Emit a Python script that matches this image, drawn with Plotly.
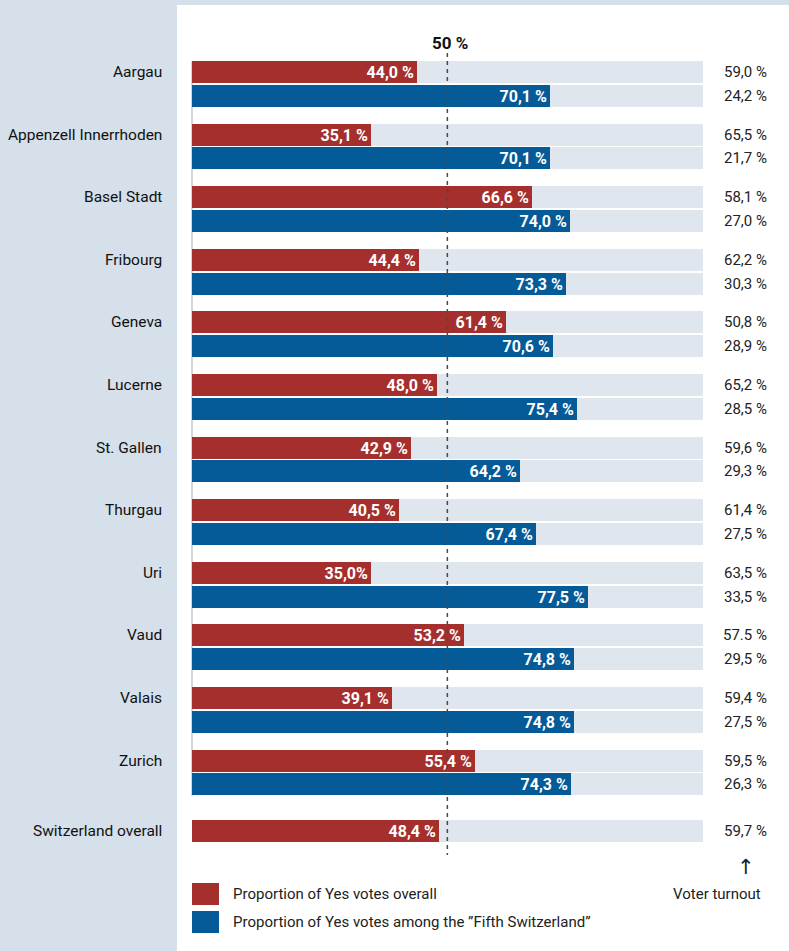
import plotly.graph_objects as go

# ---------------- data ----------------
cantons = ["Aargau", "Appenzell Innerrhoden", "Basel Stadt", "Fribourg", "Geneva",
           "Lucerne", "St. Gallen", "Thurgau", "Uri", "Vaud", "Valais", "Zurich",
           "Switzerland overall"]
yes_overall = [44.0, 35.1, 66.6, 44.4, 61.4, 48.0, 42.9, 40.5, 35.0, 53.2, 39.1, 55.4, 48.4]
yes_fifth = [70.1, 70.1, 74.0, 73.3, 70.6, 75.4, 64.2, 67.4, 77.5, 74.8, 74.8, 74.3]
turnout_overall = [59.0, 65.5, 58.1, 62.2, 50.8, 65.2, 59.6, 61.4, 63.5, 57.5, 59.4, 59.5, 59.7]
turnout_fifth = [24.2, 21.7, 27.0, 30.3, 28.9, 28.5, 29.3, 27.5, 33.5, 29.5, 27.5, 26.3]

# label spellings as printed in the original
overall_label_override = {"Uri": "35,0%"}
turnout_label_override = {"Vaud": "57.5 %"}

legend_labels = ["Proportion of Yes votes overall",
                 "Proportion of Yes votes among the \u201dFifth Switzerland\u201d"]

# ---------------- styling ----------------
W, H = 789, 951
RED = "#a52f2d"
BLUE = "#045b97"
BG_BAR = "#dfe6ed"
PANEL = "#d6e0ea"
FONT = "Roboto, sans-serif"

PX_PER_UNIT_Y = 62.6
Y_TOP_PX = 72.0
BLUE_OFF = 23.8 / PX_PER_UNIT_Y
BAR_W = 22.0 / PX_PER_UNIT_Y
X0_PX, X100_PX = 192.0, 702.7
PX_PER_PCT = (X100_PX - X0_PX) / 100.0


def fmt(v):
    return f"{v:.1f}".replace(".", ",") + " %"


def ypx(py):
    return (py - Y_TOP_PX) / PX_PER_UNIT_Y


def paper_y(py):
    return 1 - py / H


n = len(cantons)
red_pos = [i + (0.125 if i == n - 1 else 0.0) for i in range(n)]
blue_pos = [red_pos[i] + BLUE_OFF for i in range(len(yes_fifth))]

red_text = [overall_label_override.get(c, fmt(v)) for c, v in zip(cantons, yes_overall)]
blue_text = [fmt(v) for v in yes_fifth]

fig = go.Figure()

fig.add_trace(go.Bar(
    x=[100] * (len(red_pos) + len(blue_pos)), y=red_pos + blue_pos,
    orientation="h", width=BAR_W, marker=dict(color=BG_BAR, line_width=0),
    hoverinfo="skip", showlegend=False))

fig.add_trace(go.Bar(
    x=yes_overall, y=red_pos, orientation="h", width=BAR_W,
    marker=dict(color=RED, line_width=0), name=legend_labels[0],
    text=red_text, textposition="inside", insidetextanchor="end",
    constraintext="none", cliponaxis=False,
    textfont=dict(family=FONT, size=16, color="white", weight="bold"),
    showlegend=False))

fig.add_trace(go.Bar(
    x=yes_fifth, y=blue_pos, orientation="h", width=BAR_W,
    marker=dict(color=BLUE, line_width=0), name=legend_labels[1],
    text=blue_text, textposition="inside", insidetextanchor="end",
    constraintext="none", cliponaxis=False,
    textfont=dict(family=FONT, size=16, color="white", weight="bold"),
    showlegend=False))

x_lo = -X0_PX / PX_PER_PCT
x_hi = x_lo + W / PX_PER_PCT

shapes = [
    dict(type="rect", xref="paper", yref="paper", x0=0, x1=177 / W, y0=0, y1=1,
         fillcolor=PANEL, line_width=0, layer="below"),
    dict(type="rect", xref="paper", yref="paper", x0=0, x1=1, y0=paper_y(5), y1=1,
         fillcolor=PANEL, line_width=0, layer="below"),
    dict(type="line", xref="x", yref="y", x0=0, x1=0, y0=ypx(61), y1=ypx(796),
         line=dict(color="#b0b0b0", width=1), layer="below"),
    dict(type="line", xref="x", yref="y", x0=50, x1=50, y0=ypx(53), y1=ypx(855),
         line=dict(color="#4a4a4a", width=1.5, dash="4px,4px")),
    dict(type="rect", xref="paper", yref="paper", x0=192 / W, x1=219 / W,
         y0=paper_y(905), y1=paper_y(883), fillcolor=RED, line_width=0),
    dict(type="rect", xref="paper", yref="paper", x0=192 / W, x1=219 / W,
         y0=paper_y(933), y1=paper_y(911), fillcolor=BLUE, line_width=0),
]

annotations = []
for c, yp in zip(cantons, red_pos):
    annotations.append(dict(xref="paper", yref="y", x=164 / W, y=yp, text=c,
                            xanchor="right", yanchor="middle", showarrow=False,
                            font=dict(family=FONT, size=15.5, color="#111111")))
for c, v, yp in zip(cantons, turnout_overall, red_pos):
    annotations.append(dict(xref="paper", yref="y", x=769 / W, y=yp,
                            text=turnout_label_override.get(c, fmt(v)),
                            xanchor="right", yanchor="middle", showarrow=False,
                            font=dict(family=FONT, size=15, color="#222222")))
for v, yp in zip(turnout_fifth, blue_pos):
    annotations.append(dict(xref="paper", yref="y", x=769 / W, y=yp, text=fmt(v),
                            xanchor="right", yanchor="middle", showarrow=False,
                            font=dict(family=FONT, size=15, color="#222222")))

annotations.append(dict(xref="x", yref="y", x=50.5, y=ypx(43), text="50 %",
                        xanchor="center", yanchor="middle", showarrow=False,
                        font=dict(family=FONT, size=17, color="#111111", weight="bold")))

annotations.append(dict(xref="paper", yref="paper", x=231 / W, y=paper_y(894),
                        text=legend_labels[0], xanchor="left", yanchor="middle",
                        showarrow=False, font=dict(family=FONT, size=15, color="#222222")))
annotations.append(dict(xref="paper", yref="paper", x=231 / W, y=paper_y(922),
                        text=legend_labels[1], xanchor="left", yanchor="middle",
                        showarrow=False, font=dict(family=FONT, size=15, color="#222222")))
annotations.append(dict(xref="paper", yref="paper", x=717 / W, y=paper_y(894),
                        text="Voter turnout", xanchor="center", yanchor="middle",
                        showarrow=False, font=dict(family=FONT, size=15, color="#222222")))
annotations.append(dict(xref="paper", yref="paper", x=746 / W, y=paper_y(867),
                        text="\u2191", xanchor="center", yanchor="middle",
                        showarrow=False, font=dict(family="DejaVu Sans", size=21, color="#222222")))

fig.update_layout(
    width=W, height=H,
    margin=dict(l=0, r=0, t=0, b=0),
    paper_bgcolor="white", plot_bgcolor="white",
    barmode="overlay", bargap=0,
    showlegend=False,
    xaxis=dict(range=[x_lo, x_hi], visible=False, fixedrange=True),
    yaxis=dict(range=[ypx(H), ypx(0)], visible=False, fixedrange=True),
    shapes=shapes, annotations=annotations,
)

fig.write_html("out.html", config={"displayModeBar": False},
               post_script="document.body.style.margin='0';document.body.style.padding='0';")
